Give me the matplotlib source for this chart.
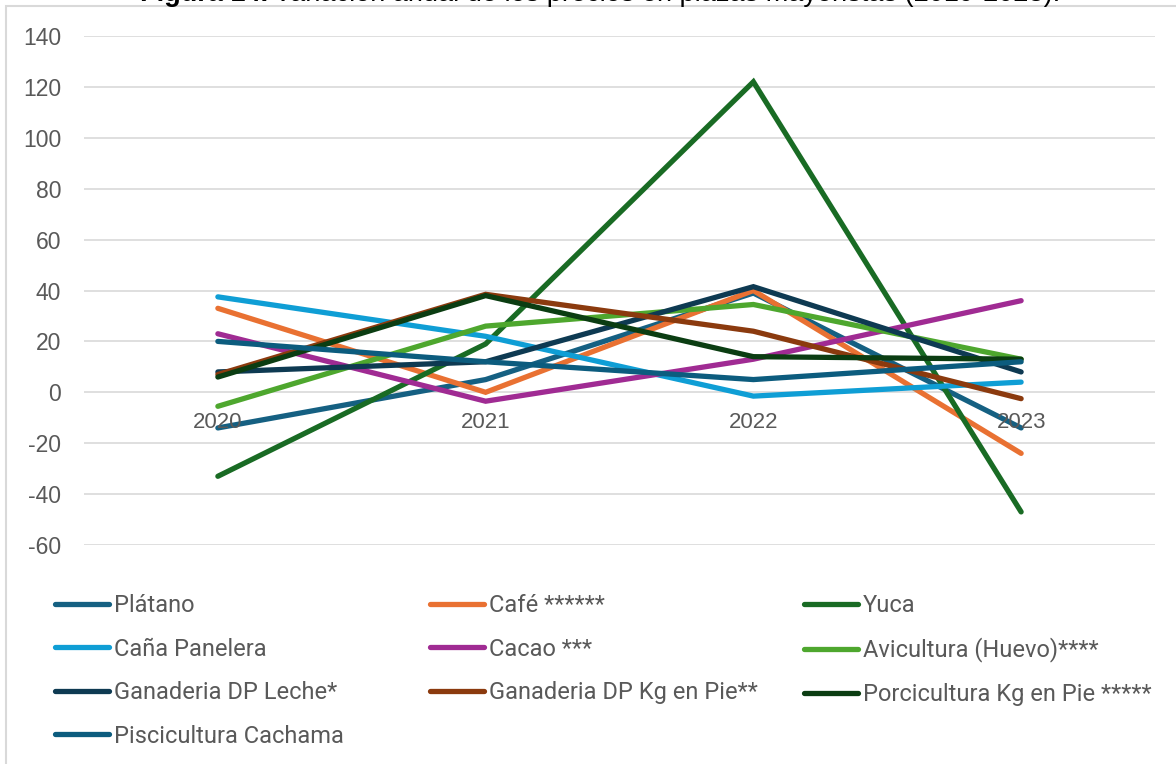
import matplotlib.pyplot as plt
from matplotlib.patches import Rectangle

plt.rcParams["axes.unicode_minus"] = False

years = ["2020", "2021", "2022", "2023"]

platano = [-14, 5, 39, -14]
cafe = [33, 0, 40, -24]
yuca = [-33, 19, 122, -47]
cana = [37.5, 22, -1.5, 4]
cacao = [23, -3.5, 13, 36]
avicultura = [-5.5, 26, 34.5, 13]
leche = [8, 12, 41.5, 8]
kg_pie = [7, 38.5, 24, -2.5]
porcicultura = [6, 38, 14, 13]
piscicultura = [20, 12, 5, 12]

series = [
    ("Plátano", platano, "#156082"),
    ("Café ******", cafe, "#E97132"),
    ("Yuca", yuca, "#196B24"),
    ("Caña Panelera", cana, "#0F9ED5"),
    ("Cacao ***", cacao, "#A02B93"),
    ("Avicultura (Huevo)****", avicultura, "#4EA72E"),
    ("Ganaderia DP Leche*", leche, "#0E3A52"),
    ("Ganaderia DP Kg en Pie**", kg_pie, "#8B3A0E"),
    ("Porcicultura Kg en Pie *****", porcicultura, "#0B3D12"),
    ("Piscicultura Cachama", piscicultura, "#0C5C7E"),
]

W, H = 1176, 764
fig = plt.figure(figsize=(W / 100, H / 100), dpi=100)
ax = fig.add_axes([84 / W, 1 - 545 / H, (1155 - 84) / W, (545 - 36) / H])

x = list(range(len(years)))
lines = []
for name, vals, col in series:
    ln, = ax.plot(x, vals, color=col, lw=3.8, solid_capstyle="round",
                  solid_joinstyle="miter", label=name)
    lines.append(ln)

ax.set_xlim(-0.5, 3.5)
ax.set_ylim(-60, 140)
ax.set_yticks(range(-60, 141, 20))
ax.yaxis.grid(True, color="#D9D9D9", lw=1.2)
ax.set_axisbelow(True)
for s in ax.spines.values():
    s.set_visible(False)
ax.tick_params(axis="y", length=0, pad=16.5, labelsize=16.5, labelcolor="#595959")
ax.set_xticks([])
for xi, yr in zip(x, years):
    ax.text(xi, -11.8, yr, ha="center", va="center", fontsize=16,
            color="#595959", family="Liberation Sans")
for lab in ax.get_yticklabels():
    lab.set_family("Liberation Sans")

# legend, filled row by row as in the original
cols = [[0, 3, 6, 9], [1, 4, 7], [2, 5, 8]]
xs = [55, 430, 804]
for idx, x0 in zip(cols, xs):
    fig.legend([lines[i] for i in idx], [series[i][0] for i in idx],
               loc="upper left", bbox_to_anchor=(x0 / W, 1 - 594 / H),
               frameon=False, handlelength=2.3,
               handletextpad=0.18, labelspacing=0.87, borderpad=0,
               borderaxespad=0, labelcolor="#595959",
               prop={"family": "Roboto", "size": 17})

fig.patches.append(Rectangle((6 / W, -0.05), 1.1, 1 - 6 / H + 0.05,
                             transform=fig.transFigure, fill=False,
                             edgecolor="#D9D9D9", lw=1.5))

# title sits mostly above the crop in the original
fig.text(268 / W, 1 - 1 / H, "Figura 14.", ha="right", va="baseline",
         fontsize=19.5, fontweight="bold", family="Liberation Sans")
fig.text(274 / W, 1 - 1 / H,
         "Variación anual de los precios en plazas mayoristas (2019-2023).",
         ha="left", va="baseline", fontsize=19.5, family="Liberation Sans")

fig.savefig("out.png", dpi=100)
